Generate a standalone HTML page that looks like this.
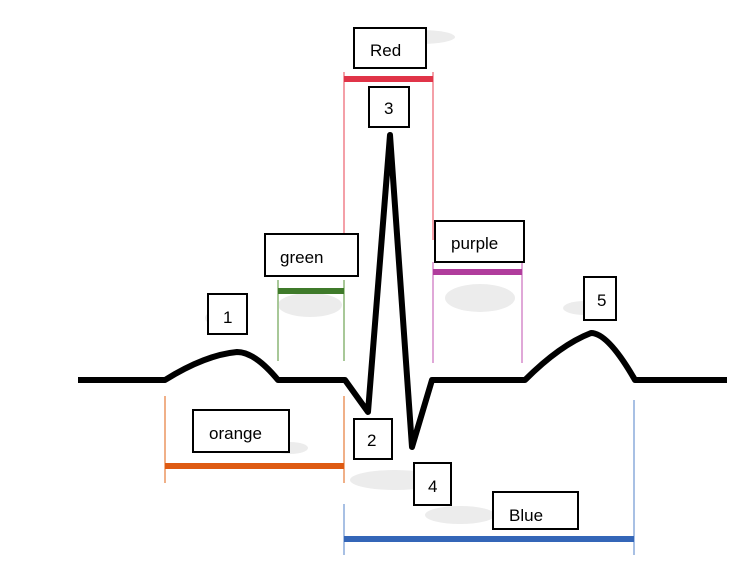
<!DOCTYPE html>
<html><head><meta charset="utf-8"><style>
html,body{margin:0;padding:0;background:#fff;}
svg{display:block;}
text{font-family:"Liberation Sans",sans-serif;font-size:17px;fill:#000;}
</style></head><body>
<svg width="734" height="572" viewBox="0 0 734 572" xmlns="http://www.w3.org/2000/svg">
<rect width="734" height="572" fill="#fff"/>
<g fill="#ececec">
<ellipse cx="420" cy="37" rx="35" ry="7"/>
<ellipse cx="225" cy="318" rx="20" ry="9"/>
<ellipse cx="310" cy="305" rx="32" ry="12"/>
<ellipse cx="480" cy="298" rx="35" ry="14"/>
<ellipse cx="585" cy="308" rx="22" ry="7"/>
<ellipse cx="290" cy="448" rx="18" ry="6"/>
<ellipse cx="395" cy="480" rx="45" ry="10"/>
<ellipse cx="460" cy="515" rx="35" ry="9"/>
</g>
<g stroke-width="2" fill="none">
<line x1="344" y1="72" x2="344" y2="236" stroke="#f4a0a8"/>
<line x1="433" y1="72" x2="433" y2="240" stroke="#f4a0a8"/>
<line x1="278" y1="280" x2="278" y2="361" stroke="#a8c898"/>
<line x1="344" y1="280" x2="344" y2="361" stroke="#a8c898"/>
<line x1="433" y1="262" x2="433" y2="363" stroke="#e0a8d8"/>
<line x1="522" y1="262" x2="522" y2="363" stroke="#e0a8d8"/>
<line x1="165" y1="396" x2="165" y2="483" stroke="#f0b088"/>
<line x1="344" y1="396" x2="344" y2="483" stroke="#f0b088"/>
<line x1="344" y1="504" x2="344" y2="555" stroke="#a8c0e4"/>
<line x1="634" y1="400" x2="634" y2="555" stroke="#a8c0e4"/>
</g>
<line x1="344" y1="79" x2="433" y2="79" stroke="#e03448" stroke-width="6"/>
<line x1="278" y1="291" x2="344" y2="291" stroke="#3f7a2a" stroke-width="6"/>
<line x1="433" y1="272" x2="522" y2="272" stroke="#b03c9c" stroke-width="6"/>
<line x1="165" y1="466" x2="344" y2="466" stroke="#de5a12" stroke-width="6"/>
<line x1="344" y1="539" x2="634" y2="539" stroke="#3466b8" stroke-width="6"/>
<path d="M78 380 L165 380 Q205 355 237 352 Q255 352 278 380 L345 380 L368 412 L390 135 L412 447 L432 380 L525 380 Q560 345 591 333 Q608 333 635 380 L727 380" fill="none" stroke="#000" stroke-width="6" stroke-linejoin="round"/>
<g fill="#fff" stroke="#000" stroke-width="2">
<rect x="354" y="28" width="72" height="40"/>
<rect x="369" y="87" width="40" height="40"/>
<rect x="265" y="234" width="93" height="42"/>
<rect x="435" y="221" width="89" height="41"/>
<rect x="208" y="294" width="39" height="40"/>
<rect x="584" y="277" width="32" height="43"/>
<rect x="193" y="410" width="96" height="42"/>
<rect x="354" y="419" width="38" height="40"/>
<rect x="414" y="463" width="37" height="42"/>
<rect x="493" y="492" width="85" height="37"/>
</g>
<text x="370" y="56">Red</text>
<text x="384" y="114">3</text>
<text x="280" y="263">green</text>
<text x="451" y="249">purple</text>
<text x="223" y="323">1</text>
<text x="597" y="306">5</text>
<text x="209" y="439">orange</text>
<text x="367" y="446">2</text>
<text x="428" y="492">4</text>
<text x="509" y="521">Blue</text>
</svg>
</body></html>
